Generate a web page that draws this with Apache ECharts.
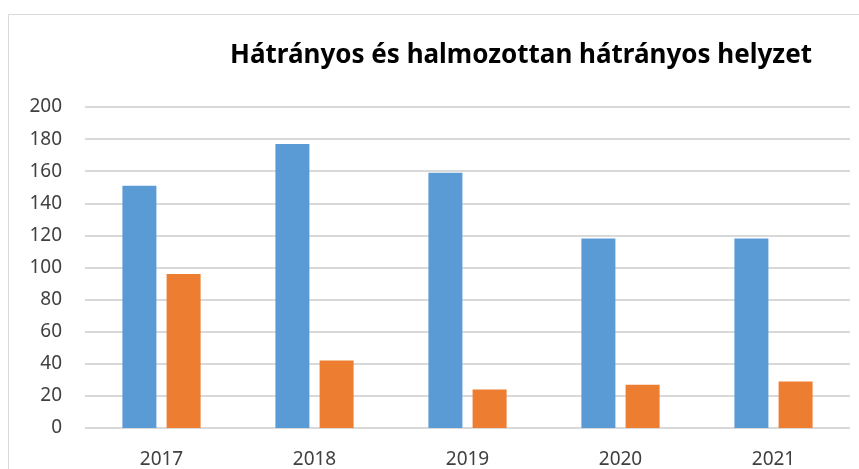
<!DOCTYPE html>
<html>
<head>
<meta charset="utf-8">
<script src="https://cdn.jsdelivr.net/npm/echarts@6/dist/echarts.min.js"></script>
<style>
	html, body { margin: 0; padding: 0; background: #fff; }
	#chart { width: 859px; height: 469px; }
</style>
</head>
<body>
<div id="chart"></div>
<script>
	// évek
	var years = ['2017', '2018', '2019', '2020', '2021'];
	// hátrányos (kék)
	var hatranyos = [151, 177, 159, 118, 118];
	// halmozottan hátrányos (narancs)
	var halmozottan = [96, 42, 24, 27, 29];
	var yTicks = [0, 20, 40, 60, 80, 100, 120, 140, 160, 180, 200];

	var chart = echarts.init(document.getElementById('chart'));

	var option = {
		animation: false,
		backgroundColor: '#fff',
		title: {
			text: 'Hátrányos és halmozottan hátrányos helyzet',
			left: 516,
			top: 38,
			textAlign: 'center',
			textStyle: {
				fontFamily: 'Noto Sans',
				fontWeight: 'bold',
				fontSize: 26,
				color: '#000'
			}
		},
		graphic: [{
			type: 'rect',
			silent: true,
			shape: { x: 8.5, y: 14.5, width: 900, height: 500 },
			style: { fill: 'none', stroke: '#d9d9d9', lineWidth: 1 }
		}],
		grid: {
			left: 85,
			right: 9,
			top: 107,
			bottom: 39
		},
		xAxis: {
			type: 'category',
			data: years,
			axisLine: { show: false },
			axisTick: { show: false },
			axisLabel: {
				margin: 22,
				fontFamily: 'Noto Sans',
				fontSize: 19,
				color: '#404040'
			}
		},
		yAxis: {
			type: 'value',
			min: yTicks[0],
			max: yTicks[yTicks.length - 1],
			interval: 20,
			axisLine: { show: false },
			axisTick: { show: false },
			axisLabel: {
				margin: 23,
				fontFamily: 'Noto Sans',
				fontSize: 19,
				color: '#404040'
			},
			splitLine: {
				lineStyle: { color: '#d9d9d9', width: 2 }
			}
		},
		series: [
			{
				name: 'Hátrányos',
				type: 'bar',
				data: hatranyos,
				barWidth: 34,
				barGap: '30%',
				itemStyle: { color: '#5b9bd5' }
			},
			{
				name: 'Halmozottan hátrányos',
				type: 'bar',
				data: halmozottan,
				barWidth: 34,
				itemStyle: { color: '#ed7d31' }
			}
		]
	};
	chart.setOption(option);
</script>
</body>
</html>
